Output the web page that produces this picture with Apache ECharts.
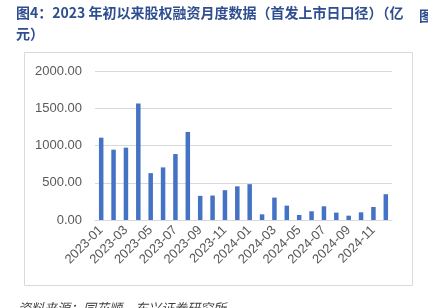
<!DOCTYPE html>
<html><head><meta charset="utf-8">
<script src="https://cdn.jsdelivr.net/npm/echarts@6/dist/echarts.min.js"></script>
<style>html,body{margin:0;padding:0;background:#fff}#c{width:428px;height:308px}</style>
</head><body><div id="c"></div>
<script>
const categories = ['2023-01','2023-02','2023-03','2023-04','2023-05','2023-06','2023-07','2023-08','2023-09','2023-10','2023-11','2023-12',
'2024-01','2024-02','2024-03','2024-04','2024-05','2024-06','2024-07','2024-08','2024-09','2024-10','2024-11','2024-12'];
const values = [1105, 944, 971, 1564, 629, 706, 885, 1182, 324, 328, 400, 452,
481, 76, 301, 193, 67, 117, 184, 99, 58, 103, 175, 346];
const yTicks = [0, 500, 1000, 1500, 2000];
const titleText = '图4：2023 年初以来股权融资月度数据（首发上市日口径）（亿\n元）';
const sourceText = '资料来源：同花顺，东兴证券研究所';

const chart = echarts.init(document.getElementById('c'), null, {renderer:'canvas'});
chart.setOption({
  animation: false,
  backgroundColor: '#fff',
  title: {
    text: titleText, left: 16, top: 2, padding: 0,
    textStyle: {fontFamily: 'Noto Sans CJK SC', fontSize: 14, fontWeight: 'bold', color: '#2E4E8F', lineHeight: 21}
  },
  graphic: [
    {type:'rect', shape:{x:24.5, y:52.5, width:388, height:233}, style:{fill:'none', stroke:'#d9d9d9', lineWidth:1}, z:-1},
    {type:'text', left: 18, top: 302, style:{text: sourceText, fontFamily:'Noto Sans CJK SC', fontSize:13, fontStyle:'italic', fill:'#404040'}},
    {type:'text', left: 419, top: 9, style:{text: '图', fontFamily:'Noto Sans CJK SC', fontSize:14, fontWeight:'bold', fill:'#2E4E8F'}}
  ],
  grid: {left: 95, right: 36, top: 71, bottom: 88, containLabel: false},
  xAxis: {
    type: 'category', data: categories,
    axisLine: {lineStyle: {color: '#d9d9d9'}},
    axisTick: {show: false},
    axisLabel: {interval: 1, rotate: 45, fontFamily: 'Liberation Sans', fontSize: 13, color: '#595959', margin: 8}
  },
  yAxis: {
    type: 'value', min: yTicks[0], max: yTicks[yTicks.length-1], interval: 500,
    axisLine: {show: false}, axisTick: {show: false},
    splitLine: {lineStyle: {color: '#d9d9d9'}},
    axisLabel: {formatter: v => v.toFixed(2), fontFamily: 'Liberation Sans', fontSize: 13, color: '#595959', margin: 13}
  },
  series: [{
    type: 'bar', data: values, barWidth: 4.5,
    itemStyle: {color: '#4472C4'}
  }]
});
</script></body></html>
